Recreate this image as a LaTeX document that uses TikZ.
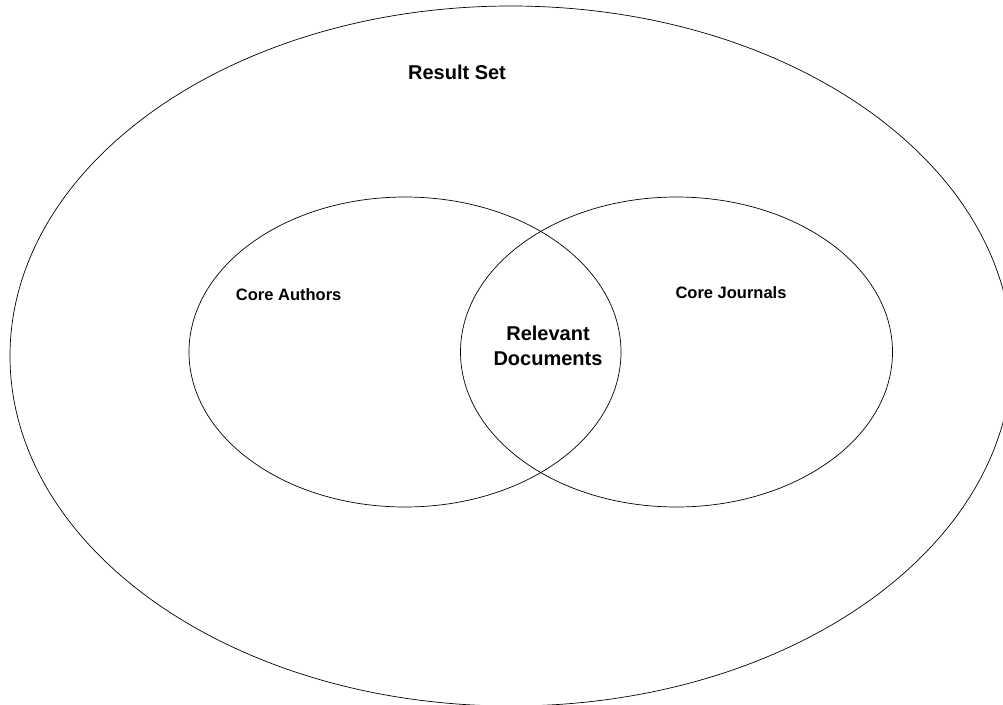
\documentclass[tikz,border=0pt]{standalone}
\usepackage{fontspec}
\setmainfont{Liberation Sans}
\usetikzlibrary{shapes.geometric}
\tikzstyle{outerset} = [ellipse, draw=black, line width=0.7pt, minimum width=1002pt, minimum height=700pt, inner sep=0pt]
\tikzstyle{innerset} = [ellipse, draw=black, line width=0.7pt, minimum width=432pt, minimum height=310pt, inner sep=0pt]
\tikzstyle{biglabel} = [font=\fontsize{20}{25}\selectfont\bfseries, align=center, inner sep=0pt]
\tikzstyle{smalllabel} = [font=\fontsize{16.5}{20}\selectfont\bfseries, inner sep=0pt]

\begin{document}
\begin{tikzpicture}[x=1pt, y=-1pt]

\clip (0,0) rectangle (1003,704);

\node (result) [outerset] at (511,356) {};
\node (authors) [innerset] at (405,352) {};
\node (journals) [innerset] at (676.5,352) {};

\node (resultlbl) [biglabel, anchor=base] at (457,79.3) {Result Set};
\node (authorslbl) [smalllabel, anchor=base] at (288.7,300) {Core Authors};
\node (journalslbl) [smalllabel, anchor=base] at (731,298.3) {Core Journals};
\node (relevant) [biglabel] at (548,346) {Relevant\\Documents};

\end{tikzpicture}
\end{document}
